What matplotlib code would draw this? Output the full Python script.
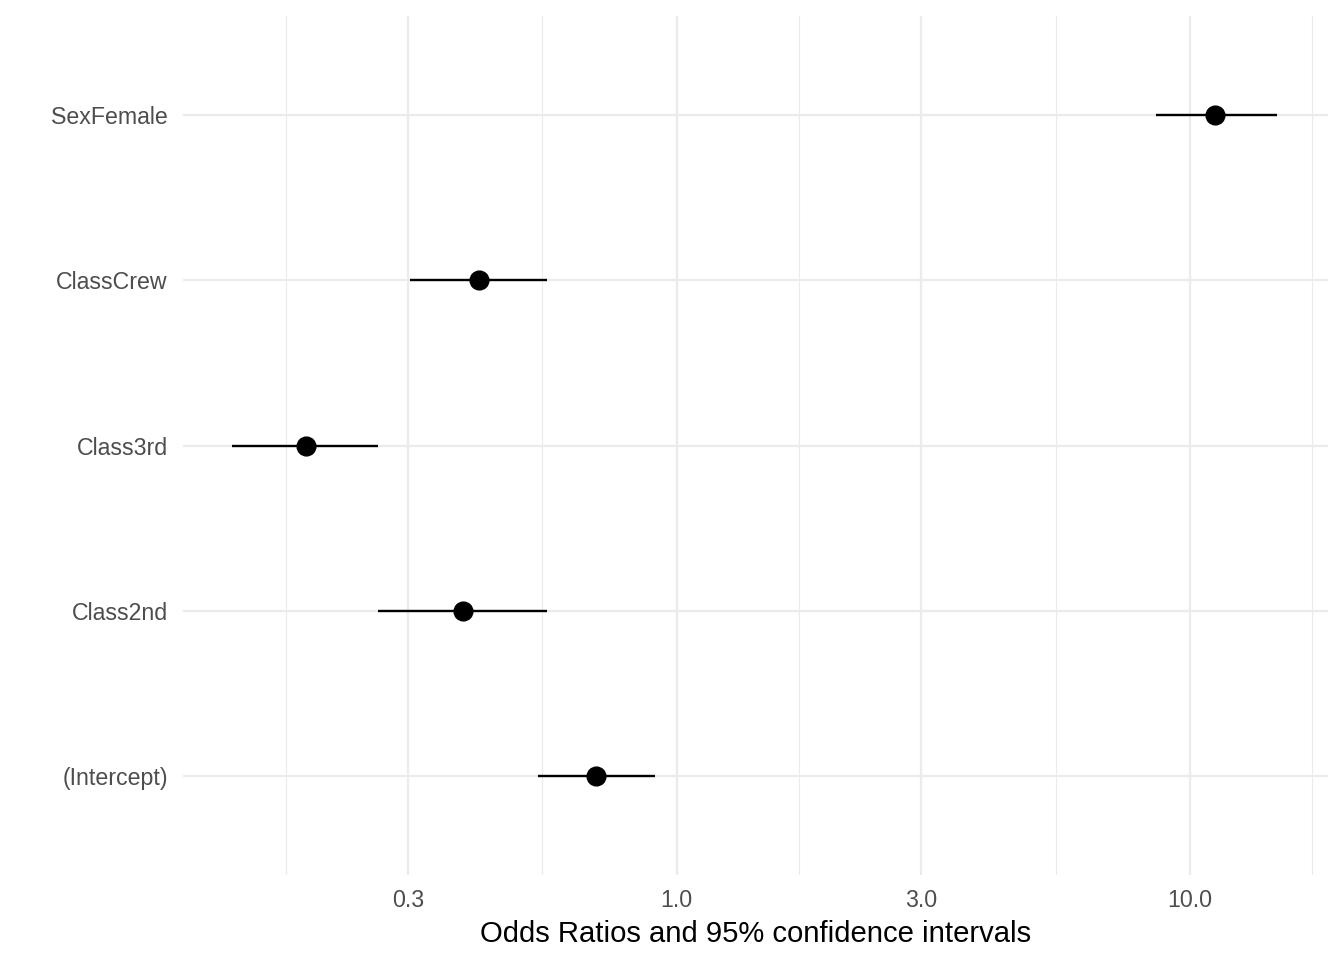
import numpy as np
import matplotlib.pyplot as plt
from matplotlib.ticker import FixedLocator, NullFormatter

terms = ["(Intercept)", "Class2nd", "Class3rd", "ClassCrew", "SexFemale"]
odds = [0.698, 0.383, 0.190, 0.413, 11.19]
ci_low = [0.538, 0.262, 0.136, 0.303, 8.59]
ci_high = [0.910, 0.560, 0.262, 0.560, 14.77]

major_ticks = [0.3, 1.0, 3.0, 10.0]
major_labels = ["0.3", "1.0", "3.0", "10.0"]
minor_ticks = [0.1732, 0.5477, 1.732, 5.477, 17.32]


def main():
    plt.rcParams["font.family"] = ["Liberation Sans", "DejaVu Sans"]
    fig = plt.figure(figsize=(13.44, 9.6), dpi=100)
    ax = fig.add_axes([0.1362, 0.0885, 0.8518, 0.8948])

    y = np.arange(len(terms))
    ax.hlines(y, ci_low, ci_high, color="black", linewidth=1.7, zorder=3)
    ax.plot(odds, y, "o", color="black", markersize=13.5, zorder=4)

    ax.set_xscale("log")
    ax.set_xlim(0.1093, 18.58)
    ax.set_ylim(-0.6, len(terms) - 0.4)

    ax.xaxis.set_major_locator(FixedLocator(major_ticks))
    ax.set_xticklabels(major_labels)
    ax.xaxis.set_minor_locator(FixedLocator(minor_ticks))
    ax.xaxis.set_minor_formatter(NullFormatter())
    ax.set_yticks(y)
    ax.set_yticklabels(terms)

    ax.grid(which="major", color="#EBEBEB", linewidth=1.6)
    ax.grid(which="minor", axis="x", color="#EBEBEB", linewidth=0.8)
    ax.set_axisbelow(True)

    for s in ax.spines.values():
        s.set_visible(False)
    ax.tick_params(which="both", length=0)
    ax.tick_params(axis="y", pad=11, labelsize=16.7, labelcolor="#4D4D4D")
    ax.tick_params(axis="x", pad=10, labelsize=16.7, labelcolor="#4D4D4D")

    ax.set_xlabel("Odds Ratios and 95% confidence intervals", fontsize=21.1, labelpad=6)

    fig.savefig("out.png", dpi=100, facecolor="white")


if __name__ == "__main__":
    main()
